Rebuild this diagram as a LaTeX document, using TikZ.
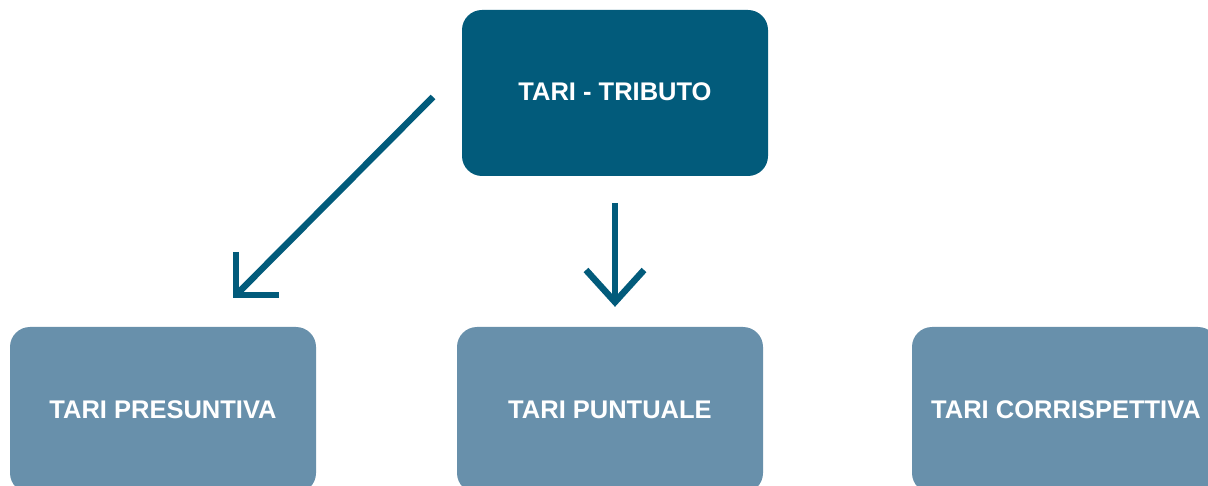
\documentclass[tikz,border=0pt]{standalone}
\usepackage{fontspec}
\setmainfont{Liberation Sans}
\definecolor{darkblue}{HTML}{025B7B}
\definecolor{lightblue}{HTML}{6890AB}
\tikzset{
  boxbase/.style={rounded corners=20pt, minimum width=306pt, inner sep=0pt},
  topbox/.style={boxbase, fill=darkblue, minimum height=166pt},
  subbox/.style={boxbase, fill=lightblue, minimum height=166pt},
  label/.style={text=white, inner sep=0pt, font=\fontsize{25.5}{28}\selectfont\bfseries},
  conn/.style={draw=darkblue, line width=6.5pt},
  head/.style={draw=darkblue, line width=6.5pt, line join=miter}
}
\begin{document}
\begin{tikzpicture}[x=1pt,y=-1pt]
\useasboundingbox (0,0) rectangle (1208,486);
\clip (0,0) rectangle (1208,486);
\node[topbox] (top) at (615,93) {};
\node[label] (toptext) at (615,92) {TARI - TRIBUTO};
\node[subbox] (pres) at (163,410) {};
\node[subbox] (punt) at (610,410) {};
\node[subbox] (corr) at (1065,410) {};
\node[label] (prestext) at (163,410) {TARI PRESUNTIVA};
\node[label] (punttext) at (610,410) {TARI PUNTUALE};
\node[label] (corrtext) at (1066,410) {TARI CORRISPETTIVA};
% diagonal arrow
\coordinate (d1) at (433,97);
\coordinate (d2) at (236,295);
\coordinate (da) at (236,252);
\coordinate (db) at (279,295);
\draw[conn] (d1) -- (d2);
\draw[head] (da) -- (d2) -- (db);
% vertical arrow
\coordinate (v1) at (615,203);
\coordinate (v2) at (615,302);
\coordinate (va) at (586,270);
\coordinate (vb) at (644,270);
\draw[conn] (v1) -- (v2);
\draw[head] (va) -- (v2) -- (vb);
\end{tikzpicture}
\end{document}
